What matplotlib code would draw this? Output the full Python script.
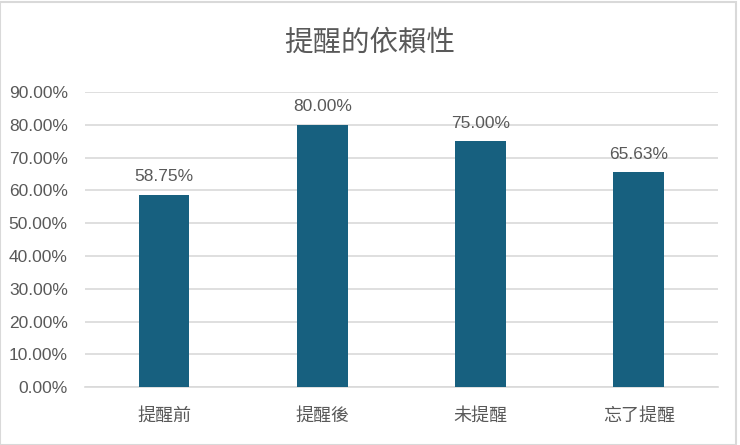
import matplotlib
matplotlib.use("Agg")
import matplotlib.pyplot as plt
from matplotlib.patches import Rectangle
from matplotlib.ticker import FuncFormatter

plt.rcParams['font.family'] = ['Liberation Sans', 'Noto Sans CJK TC', 'DejaVu Sans']

TITLE = "提醒的依賴性"
categories = ["提醒前", "提醒後", "未提醒", "忘了提醒"]
values = [58.75, 80.00, 75.00, 65.63]
y_ticks = [0, 10, 20, 30, 40, 50, 60, 70, 80, 90]

BAR_COLOR = "#17607f"
TEXT_COLOR = "#595959"
GRID_COLOR = "#d9d9d9"

fig = plt.figure(figsize=(7.4, 4.45), dpi=100)
ax = fig.add_axes([0.115, 0.130, 0.855, 0.663])

x = range(len(categories))
bars = ax.bar(x, values, width=0.32, color=BAR_COLOR, zorder=3)

for bar, v in zip(bars, values):
    ax.text(bar.get_x() + bar.get_width() / 2, v + 3.2, f"{v:.2f}%",
            ha="center", va="bottom", fontsize=12.5, color=TEXT_COLOR)

ax.set_xlim(-0.5, len(categories) - 0.5)
ax.set_ylim(0, 90)
ax.set_yticks(y_ticks)
ax.yaxis.set_major_formatter(FuncFormatter(lambda v, p: f"{v:.2f}%"))
ax.set_xticks(list(x))
ax.set_xticklabels(categories, family=['Noto Sans CJK TC', 'DejaVu Sans'],
                   fontsize=13)

ax.grid(axis="y", color=GRID_COLOR, linewidth=1.2, zorder=0)
for s in ["top", "right", "left"]:
    ax.spines[s].set_visible(False)
ax.spines["bottom"].set_color(GRID_COLOR)
ax.spines["bottom"].set_linewidth(1.2)
ax.tick_params(axis="both", length=0, colors=TEXT_COLOR)
ax.tick_params(axis="y", labelsize=12.5, pad=12.5)
ax.tick_params(axis="x", pad=14)

fig.text(0.5, 0.903, TITLE, ha="center", va="center", fontsize=20.5,
         color=TEXT_COLOR, family=['Noto Sans CJK TC', 'DejaVu Sans'])

# thin frame at the top and right edges
fig.patches.append(Rectangle((0, 0), 0.995, 0.996, transform=fig.transFigure,
                             fill=False, edgecolor="#d9d9d9", linewidth=1.5))

fig.savefig("out.png", dpi=100)
